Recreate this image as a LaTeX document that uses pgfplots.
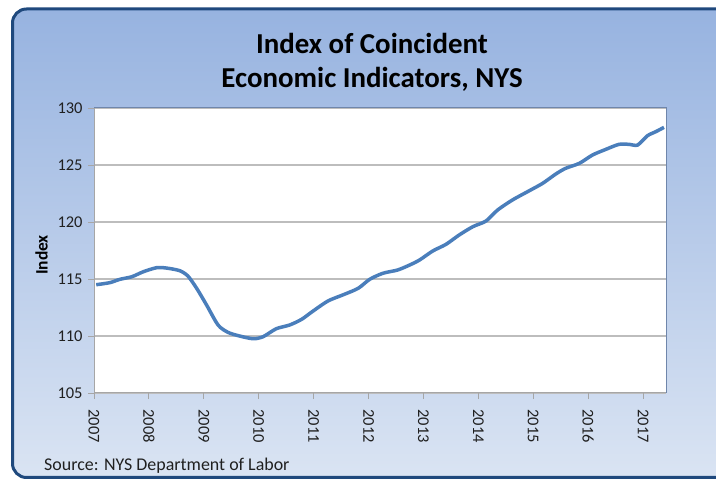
\documentclass[border=0pt]{standalone}
\usepackage{fontspec}
\setmainfont{Carlito}
\usepackage{pgfplots}
\pgfplotsset{compat=1.18}
\definecolor{navy}{HTML}{1F497D}
\definecolor{bgtop}{HTML}{97B3E0}
\definecolor{bgbot}{HTML}{DAE4F3}
\definecolor{serie}{HTML}{4A7EBB}
\definecolor{gridc}{HTML}{BDBDBD}
\definecolor{framec}{HTML}{6F86AB}
\definecolor{axisc}{HTML}{A6A6A6}
\definecolor{txt}{HTML}{202020}
\newcommand{\tickfont}{\fontsize{16.5}{18}\selectfont}
\begin{document}
\begin{tikzpicture}
\useasboundingbox (0bp,0bp) rectangle (716bp,479bp);
\fill[white] (0bp,0bp) rectangle (716bp,479bp);
\begin{scope}
\clip (0bp,0bp) rectangle (716bp,479bp);
\shade[top color=bgtop, bottom color=bgbot, rounded corners=14bp] (12.5bp,1.5bp) rectangle (760bp,470bp);
\draw[navy, line width=3bp, rounded corners=14bp] (12.5bp,1.5bp) rectangle (760bp,470bp);
\end{scope}
\node[font=\fontsize{29}{35}\selectfont\bfseries, align=center, anchor=base, text=black] at (372bp,391bp) {Index of Coincident\\Economic Indicators, NYS};
\node[font=\fontsize{18}{20}\selectfont, anchor=base west, text=txt, inner sep=0] at (44bp,9bp) {Source: NYS Department of Labor};
\begin{axis}[
  at={(94bp,86bp)}, anchor=south west,
  width=572bp, height=285bp, scale only axis,
  xmin=2007, xmax=2017.4167,
  ymin=105, ymax=130,
  ytick={105,110,...,130},
  xtick={2007,...,2017},
  minor x tick num=11,
  tick pos=left,
  tick align=outside,
  major tick length=6bp, minor tick length=5bp,
  tick style={axisc, line width=0.8bp},
  ymajorgrids,
  major grid style={gridc, line width=1.3bp},
  axis line style={draw=none},
  axis background/.style={fill=white},
  /pgf/number format/assume math mode=true,
  /pgf/number format/1000 sep={},
  every tick label/.append style={font=\tickfont, text=txt},
  xticklabel style={font=\tickfont, rotate=-90, anchor=west},
  xticklabel shift=7bp,
  yticklabel style={font=\tickfont, xshift=-2bp},
  ylabel={\bfseries Index},
  ylabel style={font=\fontsize{17.5}{19}\selectfont, text=black, at={(ticklabel cs:0.484)}},
  ylabel shift=3bp,
  clip=false,
]
\addplot[serie, line width=3.5bp, smooth, tension=0.45] coordinates {
(2007.04,114.50) (2007.29,114.68) (2007.47,114.97) (2007.69,115.20) (2007.90,115.64)
(2008.14,115.99) (2008.32,115.96) (2008.56,115.73) (2008.71,115.26) (2008.87,114.18)
(2009.05,112.72) (2009.26,110.96) (2009.44,110.32) (2009.65,110.00) (2009.90,109.76)
(2010.08,109.94) (2010.32,110.64) (2010.56,110.96) (2010.78,111.46) (2010.99,112.19)
(2011.26,113.07) (2011.53,113.60) (2011.81,114.18) (2012.02,114.97) (2012.26,115.50)
(2012.53,115.79) (2012.75,116.23) (2012.93,116.67) (2013.17,117.46) (2013.41,118.04)
(2013.65,118.86) (2013.90,119.59) (2014.14,120.09) (2014.35,121.05) (2014.62,121.93)
(2014.93,122.75) (2015.17,123.39) (2015.41,124.21) (2015.59,124.71) (2015.84,125.15)
(2016.08,125.88) (2016.32,126.37) (2016.56,126.81) (2016.75,126.81) (2016.90,126.75)
(2017.08,127.57) (2017.23,127.92) (2017.38,128.30)
};
\draw[axisc, line width=1bp] (rel axis cs:0,1) -- (rel axis cs:0,0) -- (rel axis cs:1,0);
\draw[framec, line width=1bp] (rel axis cs:0,1) -- (rel axis cs:1,1) -- (rel axis cs:1,0);
\end{axis}
\end{tikzpicture}
\end{document}
